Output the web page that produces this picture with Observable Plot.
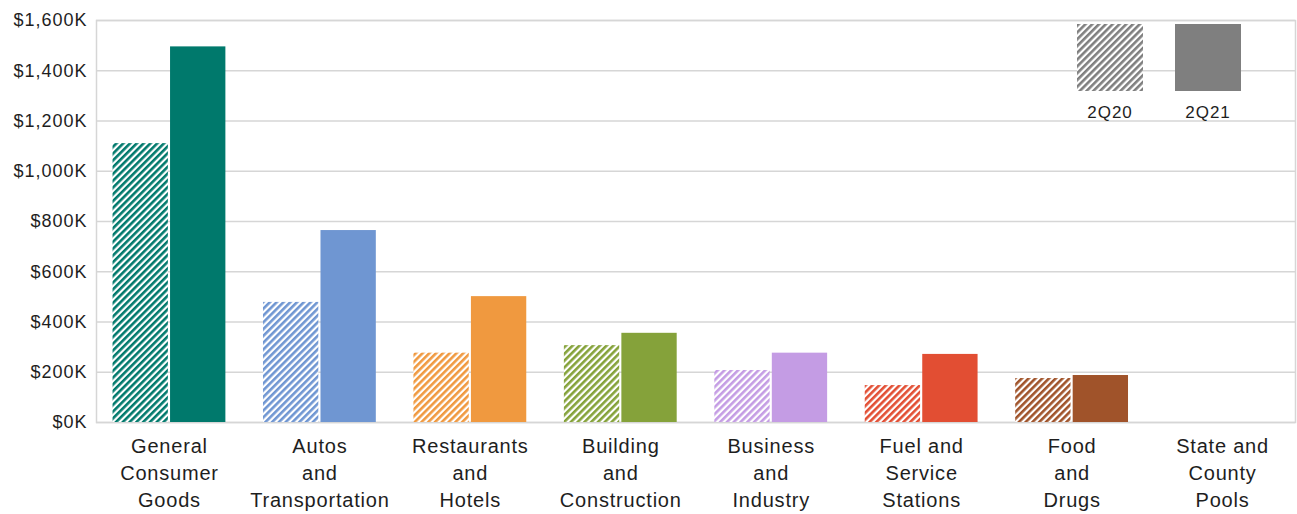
<!DOCTYPE html>
<html>
<head>
<meta charset="utf-8">
<script src="https://cdn.jsdelivr.net/npm/d3@7"></script>
<script src="https://cdn.jsdelivr.net/npm/@observablehq/plot@0.6"></script>
<style>
  html, body { margin: 0; padding: 0; background: #fff; }
  #wrap { position: relative; width: 1297px; height: 514px; font-family: "Liberation Sans", Arial, sans-serif; }
  #wrap svg g[aria-label="x-axis tick label"] text { letter-spacing: 0.8px; }
  #wrap svg g[aria-label="y-axis tick label"] text { letter-spacing: 1px; }
  #legend { position: absolute; left: 1077px; top: 24px; display: flex; gap: 32px; }
  .item { display: flex; flex-direction: column; align-items: center; width: 66px; }
  .item svg { display: block; }
  .item span { margin-top: 13px; font-size: 17px; letter-spacing: 1px; color: #1e1e1e; line-height: 17px; }
</style>
</head>
<body>
<div id="wrap"></div>
<script>
// ---- data ----
const categories = ["General Consumer Goods", "Autos and Transportation", "Restaurants and Hotels", "Building and Construction", "Business and Industry", "Fuel and Service Stations", "Food and Drugs", "State and County Pools"];
const categoryLabels = ["General\nConsumer\nGoods", "Autos\nand\nTransportation", "Restaurants\nand\nHotels", "Building\nand\nConstruction", "Business\nand\nIndustry", "Fuel and\nService\nStations", "Food\nand\nDrugs", "State and\nCounty\nPools"];
const seriesNames = ["2Q20", "2Q21"];
const values2Q20 = [1110, 478, 276, 306, 207, 147, 175, 0]; // $K
const values2Q21 = [1495, 764, 501, 355, 276, 271, 187, 0]; // $K
const yTicks = [0, 200, 400, 600, 800, 1000, 1200, 1400, 1600];

// ---- styles ----
const palette = ["#00796c", "#6f96d2", "#f0993f", "#85a23a", "#c49ce4", "#e24e33", "#a0532a", "#7f7f7f"];
const labelOf = new Map(categories.map((c, i) => [c, categoryLabels[i]]));

const rows = categories.map((c, i) => ({
  category: c,
  v20: values2Q20[i],
  v21: values2Q21[i],
  hatch: `url(#hatch-${i})`,
  solid: palette[i]
}));

const fmt = d3.format(",");

const chart = Plot.plot({
  width: 1297,
  height: 514,
  marginLeft: 96,
  marginRight: 2,
  marginTop: 20,
  marginBottom: 92,
  style: { fontFamily: "Liberation Sans, Arial, sans-serif", color: "#1e1e1e", background: "#fff" },
  x: { domain: categories, paddingInner: 0.25, paddingOuter: 0.11, round: false, label: null },
  y: { domain: [0, 1600], label: null },
  color: { type: "identity" },
  marks: [
    Plot.gridY(yTicks, { stroke: "#d6d6d6", strokeOpacity: 1, strokeWidth: 1.5 }),
    Plot.frame({ stroke: "#d6d6d6", strokeWidth: 1.5 }),
    Plot.barY(rows, { x: "category", y: "v20", fill: "hatch", insetRight: 57.5 }),
    Plot.barY(rows, { x: "category", y: "v21", fill: "solid", insetLeft: 57.5 }),
    Plot.axisY(yTicks, {
      tickSize: 0, tickPadding: 9, fontSize: 18, label: null,
      tickFormat: d => "$" + fmt(d) + "K"
    }),
    Plot.axisX({
      tickSize: 0, tickPadding: 11, fontSize: 20, lineHeight: 1.36, label: null,
      tickFormat: d => labelOf.get(d)
    })
  ]
});

// hatch patterns
const ns = "http://www.w3.org/2000/svg";
function makeHatch(id, color) {
  const p = document.createElementNS(ns, "pattern");
  p.setAttribute("id", id);
  p.setAttribute("patternUnits", "userSpaceOnUse");
  p.setAttribute("width", "4.8");
  p.setAttribute("height", "4.8");
  p.setAttribute("patternTransform", "rotate(45)");
  const bg = document.createElementNS(ns, "rect");
  bg.setAttribute("width", "4.8"); bg.setAttribute("height", "4.8"); bg.setAttribute("fill", "#fff");
  const st = document.createElementNS(ns, "rect");
  st.setAttribute("width", "2.6"); st.setAttribute("height", "4.8"); st.setAttribute("fill", color);
  p.appendChild(bg); p.appendChild(st);
  return p;
}
const defs = document.createElementNS(ns, "defs");
palette.forEach((c, i) => defs.appendChild(makeHatch(`hatch-${i}`, c)));
defs.appendChild(makeHatch("hatch-legend", "#7f7f7f"));
chart.insertBefore(defs, chart.firstChild);

const wrap = document.getElementById("wrap");
wrap.appendChild(chart);

// legend (inside plot area, top right)
const legend = document.createElement("div");
legend.id = "legend";
seriesNames.forEach((name, i) => {
  const item = document.createElement("div");
  item.className = "item";
  const fill = i === 0 ? "url(#hatch-legend)" : "#7f7f7f";
  item.innerHTML = `<svg width="66" height="67"><rect width="66" height="67" fill="${fill}"/></svg><span>${name}</span>`;
  legend.appendChild(item);
});
wrap.appendChild(legend);
</script>
</body>
</html>
